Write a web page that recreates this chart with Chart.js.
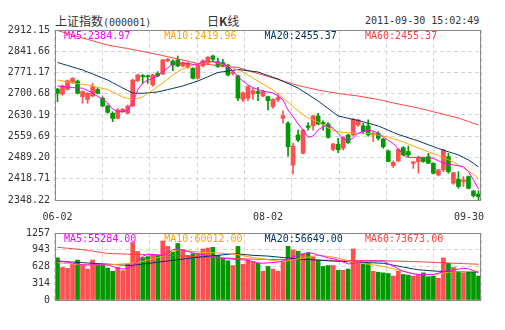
<!DOCTYPE html>
<html>
<head>
<meta charset="utf-8">
<script src="https://cdn.jsdelivr.net/npm/chart.js@4.4.0/dist/chart.umd.min.js"></script>
<style>
  body { margin: 0; background: #fff; width: 505px; height: 330px; position: relative; overflow: hidden; }
  .t { position: absolute; color: #333; white-space: nowrap; line-height: 12px; }
  .m { font-family: "DejaVu Sans Mono", monospace; font-size: 10px; }
  .c { font-family: "Noto Sans CJK SC", sans-serif; font-size: 12px; }
  #main { position: absolute; left: 0; top: 0; }
  #vol { position: absolute; left: 0; top: 222px; }
</style>
</head>
<body>
<div class="t c" style="left:55px;top:15px">上证指数<span class="m">(000001)</span></div>
<div class="t c" style="left:207px;top:15px">日<b>K</b>线</div>
<div class="t m" style="left:365px;top:15px">2011-09-30 15:02:49</div>
<canvas id="main" width="505" height="222"></canvas>
<canvas id="vol" width="505" height="108"></canvas>
<script>
// trading days 2011-06-02 .. 2011-09-30
const dates = [
  '06-02','06-03','06-07','06-08','06-09','06-10','06-13','06-14','06-15','06-16','06-17','06-20','06-21','06-22','06-23','06-24','06-27','06-28','06-29','06-30',
  '07-01','07-04','07-05','07-06','07-07','07-08','07-11','07-12','07-13','07-14','07-15','07-18','07-19','07-20','07-21','07-22','07-25','07-26','07-27','07-28','07-29',
  '08-01','08-02','08-03','08-04','08-05','08-08','08-09','08-10','08-11','08-12','08-15','08-16','08-17','08-18','08-19','08-22','08-23','08-24','08-25','08-26','08-29','08-30','08-31',
  '09-01','09-02','09-05','09-06','09-07','09-08','09-09','09-13','09-14','09-15','09-16','09-19','09-20','09-21','09-22','09-23','09-26','09-27','09-28','09-29','09-30'
];
const xTickLabels = ['06-02', '08-02', '09-30'];

const opens = [2716,2699,2715,2738,2743,2691,2682,2693,2715,2686,2660,2636,2619,2641,2636,2660,2744,2761,2760,2730,2768,2766,2810,2809,2813,2793,2788,2785,2752,2793,2802,2826,2807,2804,2796,2768,2760,2682,2686,2700,2708,2693,2691,2658,2680,2619,2603,2464,2564,2503,2594,2594,2627,2605,2600,2516,2533,2520,2564,2564,2597,2594,2594,2564,2569,2550,2511,2462,2478,2522,2509,2470,2475,2487,2492,2470,2431,2448,2492,2404,2417,2409,2426,2378,2368];
const highs = [2719,2730,2746,2754,2746,2710,2704,2735,2719,2691,2663,2641,2652,2652,2663,2749,2766,2765,2763,2766,2774,2815,2818,2813,2826,2807,2804,2787,2799,2813,2824,2829,2818,2815,2798,2777,2763,2707,2727,2719,2722,2713,2693,2685,2702,2644,2608,2536,2580,2583,2605,2630,2636,2611,2605,2536,2553,2558,2567,2619,2616,2603,2614,2575,2575,2553,2514,2478,2519,2525,2527,2476,2494,2489,2503,2472,2450,2516,2503,2440,2442,2426,2428,2380,2379];
const lows = [2674,2696,2713,2735,2700,2669,2669,2691,2700,2658,2636,2608,2617,2638,2634,2658,2741,2735,2735,2726,2757,2764,2807,2777,2790,2790,2785,2750,2750,2790,2800,2807,2788,2790,2760,2762,2678,2674,2678,2682,2678,2691,2647,2652,2674,2603,2494,2435,2542,2501,2580,2580,2597,2580,2553,2512,2505,2514,2536,2560,2592,2569,2560,2542,2547,2520,2475,2456,2475,2494,2492,2453,2437,2473,2469,2434,2428,2442,2437,2400,2387,2393,2385,2358,2346];
const closes = [2702,2726,2744,2752,2702,2708,2702,2724,2702,2660,2639,2619,2647,2649,2660,2746,2763,2757,2757,2763,2760,2813,2815,2796,2793,2804,2802,2752,2796,2810,2822,2815,2791,2793,2763,2773,2686,2704,2724,2711,2702,2708,2678,2682,2688,2628,2525,2527,2547,2580,2589,2627,2600,2600,2556,2534,2515,2556,2538,2616,2614,2575,2564,2569,2553,2525,2476,2473,2516,2498,2498,2475,2487,2476,2470,2437,2448,2514,2442,2439,2393,2415,2387,2362,2359];

const ma5 = [2726.4,2724.7,2723.1,2721.4,2719.8,2719.1,2711.5,2703.2,2691.6,2683.3,2670.1,2650.2,2641.2,2641.2,2645.2,2670.1,2713.1,2736.4,2746.3,2751.3,2759.6,2776.2,2786.1,2799.4,2801.7,2801.7,2801.7,2797.7,2799.4,2806,2807,2807,2804.4,2799.4,2792.7,2776.2,2757.3,2743,2729.7,2721.4,2714.8,2709.2,2706.5,2703.2,2693.2,2680,2646.8,2625.2,2600.4,2580.5,2556.3,2560.6,2580.5,2591.4,2597,2586.1,2569.5,2550.6,2547.3,2552.9,2569.5,2575.5,2580.5,2577.2,2568.9,2557.2,2545.6,2536.3,2517.4,2497.5,2489.9,2489.3,2489.9,2489.9,2488.2,2486.6,2478.3,2470,2467,2464.4,2461.7,2458.8,2442.2,2414.6,2385];
const ma10 = [2746.3,2743,2739.7,2736.4,2734,2732,2729.7,2726,2722.1,2718.4,2714.8,2706.5,2698.2,2689.9,2685.6,2681.6,2685.6,2689.9,2701.5,2713.1,2724.7,2736.4,2749.6,2762.9,2772.8,2782.8,2788.8,2795.1,2801.1,2803,2805,2807,2802.4,2797.4,2792.7,2786.1,2779.5,2772.8,2762.9,2752.9,2743,2733,2723.1,2713.1,2699.9,2686.6,2673.3,2658.4,2643.5,2631.9,2620.3,2613.6,2607,2597,2587.1,2580.5,2573.8,2572.8,2571.5,2570.5,2569.5,2569.5,2569.5,2566.5,2563.2,2560.2,2557.2,2551.6,2546.3,2540.7,2534,2527.4,2520.8,2514.1,2508.2,2501.9,2495.9,2488.6,2481.6,2474.4,2464.4,2454.4,2444.5,2432.8,2420];
const ma20 = [2804.4,2799.4,2794.4,2789.4,2784.4,2779.5,2772.8,2766.2,2759.6,2752.9,2746.3,2737.4,2728.7,2719.8,2711.5,2703.2,2702.5,2702.2,2703.5,2705.2,2706.5,2710.5,2714.5,2718.4,2722.4,2726.4,2732,2737.4,2743,2749.9,2756.9,2764.2,2771.2,2773.5,2776.2,2778.5,2781.2,2779.2,2776.8,2774.8,2772.8,2766.9,2761.2,2755.3,2749.6,2742,2734.7,2727.1,2719.8,2708.8,2698.2,2687.3,2676.6,2664,2651.8,2639.1,2626.9,2623.2,2619.3,2615.6,2612,2607.3,2602.6,2598.3,2593.7,2586.7,2579.4,2572.5,2565.5,2560.2,2554.6,2549.3,2544,2537.7,2531.4,2525.4,2519.1,2513.8,2508.2,2502.9,2497.5,2489.3,2481,2470,2458];
const ma60 = [2910.5,2905.5,2900.5,2895.6,2890.6,2885.6,2881,2876.3,2871.7,2867,2862.4,2859.4,2856.4,2853.5,2850.5,2847.5,2844.2,2840.9,2837.5,2834.2,2830.9,2827.2,2823.6,2820,2816.3,2812.6,2808.7,2805,2801.1,2799.4,2797.7,2796.1,2794.4,2792.7,2791.1,2789.4,2787.8,2782.8,2777.8,2772.8,2767.9,2762.9,2757.9,2752.9,2747.9,2743,2738,2733,2728.1,2724.4,2720.4,2716.8,2713.1,2710.1,2707.2,2704.5,2701.5,2699.5,2697.2,2695.2,2693.2,2690.2,2687.2,2684.6,2681.6,2678,2674,2670.4,2666.7,2663.4,2660.1,2656.8,2653.4,2649.1,2645.2,2640.8,2636.8,2632.5,2628.6,2624.2,2620.3,2614.3,2608.8,2602.6,2597];

const volumes = [790,611,593,677,749,659,581,749,670,659,598,539,611,551,670,1078,910,796,814,850,838,1108,1006,898,1060,946,838,868,868,958,976,988,838,778,736,647,1006,670,749,718,688,539,629,581,539,718,1006,940,916,868,880,808,748,629,647,647,557,557,581,958,718,670,683,539,521,509,497,449,539,479,467,449,479,509,437,449,407,790,688,611,539,509,527,527,449];
const vma5 = [739,724,709,694,677,659,659,659,659,659,659,629,599,581,593,641,730,820,862,856,844,832,868,946,958,934,910,886,868,850,832,814,796,784,772,766,760,754,748,718,694,691,697,703,712,736,772,808,832,862,892,874,844,820,790,778,748,712,677,682,706,730,730,730,730,730,682,635,587,539,515,491,479,479,479,479,503,533,545,563,581,593,587,551,509];
const vma10 = [700,691,682,674,665,659,659,659,659,659,659,663,671,678,685,697,712,724,748,772,796,820,862,916,943,934,924,914,904,893,889,884,880,875,871,865,850,832,814,796,784,769,754,742,727,718,736,754,772,787,805,823,838,829,817,805,784,760,730,712,697,685,671,659,644,629,605,584,563,539,518,494,479,479,479,479,485,503,521,529,531,533,535,537,539];
const vma20 = [727,722,717,711,706,700,694,689,684,678,673,668,662,656,650,651,663,674,686,697,709,721,733,744,756,768,779,791,803,812,821,830,839,848,857,866,862,856,847,838,833,829,824,815,806,797,788,779,770,765,759,754,748,742,736,730,726,722,718,714,709,705,701,697,693,688,671,653,636,618,600,583,567,560,552,545,539,537,536,534,533,531,530,528,527];
const vma60 = [988,979,971,963,954,946,932,917,903,888,874,870,867,863,860,856,854,851,848,846,844,841,838,833,828,823,818,813,808,805,800,797,793,789,785,782,778,774,770,766,765,763,762,761,759,758,757,756,754,753,751,750,748,747,747,745,745,744,742,742,741,740,739,738,738,736,734,731,729,726,724,721,718,714,711,706,702,699,694,690,687,682,678,675,671];

const yTickLabels = ['2348.22','2418.71','2489.20','2559.69','2630.19','2700.68','2771.17','2841.66','2912.15'];
const volTickLabels = ['0','314','628','943','1257'];
const maNames = ['MA5', 'MA10', 'MA20', 'MA60'];
const maLast = [2384.97, 2419.96, 2455.37, 2455.37];
const volMaLast = [55284.00, 60012.00, 56649.00, 73673.00];

const red = '#ff5050', green = '#009900';
const maColors = ['#ff00ff', '#ffa500', '#003366', '#ff4040'];
const candleColors = closes.map((c, i) => (c >= opens[i] ? red : green));
const monoFont = { family: '"DejaVu Sans Mono", monospace', size: 10 };

// labels inside the plot, frame and date labels
const boxPlugin = {
  id: 'box',
  beforeDatasetsDraw(chart, args, opts) {
    const { ctx, chartArea: a } = chart;
    ctx.save();
    ctx.font = '10px "DejaVu Sans Mono"';
    ctx.textBaseline = 'middle';
    opts.labels.forEach((t, k) => {
      ctx.fillStyle = maColors[k];
      ctx.fillText(t, a.left + 9 + k * 100.3, a.top + 6.5);
    });
    ctx.restore();
  },
  afterDraw(chart, args, opts) {
    const { ctx, chartArea: a } = chart;
    ctx.save();
    ctx.strokeStyle = '#8a8a8a';
    ctx.lineWidth = 1;
    ctx.strokeRect(a.left + 0.5, a.top + 0.5, a.right - a.left - 1, a.bottom - a.top);
    if (opts.dateLabels) {
      ctx.font = '10px "DejaVu Sans Mono"';
      ctx.fillStyle = '#333';
      ctx.textBaseline = 'middle';
      xTickLabels.forEach(t => {
        const x = chart.scales.x.getPixelForValue(dates.indexOf(t));
        const w = ctx.measureText(t).width;
        let left = Math.min(x - w / 2, a.right + 3 - w);
        ctx.fillText(t, left, a.bottom + 17.5);
      });
    }
    ctx.restore();
  }
};

function lineSet(label, data, color) {
  return { type: 'line', label, data, borderColor: color, borderWidth: 1, pointRadius: 0, tension: 0, order: 1 };
}

function gridAxis() {
  return {
    type: 'linear', axis: 'x', position: 'bottom', min: 0, max: 8,
    ticks: { display: false, stepSize: 1 },
    grid: { color: '#d6d6d6', drawTicks: false },
    border: { display: false, dash: [4, 3] },
    afterFit(s) { s.height = 0; }
  };
}

function valueAxis(min, max, labels) {
  return {
    min, max,
    afterBuildTicks(s) { s.ticks = labels.map(v => ({ value: Number(v) })); },
    afterFit(s) { s.width = 55; },
    ticks: { autoSkip: false, padding: 5, color: '#333', font: monoFont, callback: (v, i) => labels[i] },
    grid: { color: '#d6d6d6', drawTicks: false },
    border: { display: false, dash: [4, 3] }
  };
}

new Chart(document.getElementById('main'), {
  type: 'bar',
  data: {
    labels: dates,
    datasets: [
      lineSet('MA5', ma5, maColors[0]),
      lineSet('MA10', ma10, maColors[1]),
      lineSet('MA20', ma20, maColors[2]),
      lineSet('MA60', ma60, maColors[3]),
      { label: 'body', data: opens.map((o, i) => [o, closes[i]]), backgroundColor: candleColors,
        barThickness: 4, grouped: false, minBarLength: 1, borderWidth: 0, order: 2 },
      { label: 'wick', data: lows.map((l, i) => [l, highs[i]]), backgroundColor: candleColors,
        barThickness: 1, grouped: false, borderWidth: 0, order: 3 }
    ]
  },
  options: {
    responsive: false,
    animation: false,
    layout: { padding: { left: 0, right: 24, top: 30, bottom: 22 } },
    plugins: {
      legend: { display: false },
      tooltip: { enabled: false },
      box: { labels: maNames.map((n, k) => n + ':' + maLast[k].toFixed(2)), dateLabels: true }
    },
    scales: {
      x: { display: false, offset: true },
      grid8: gridAxis(),
      y: valueAxis(Number(yTickLabels[0]), Number(yTickLabels[yTickLabels.length - 1]), yTickLabels)
    }
  },
  plugins: [boxPlugin]
});

new Chart(document.getElementById('vol'), {
  type: 'bar',
  data: {
    labels: dates,
    datasets: [
      lineSet('MA5', vma5, maColors[0]),
      lineSet('MA10', vma10, maColors[1]),
      lineSet('MA20', vma20, maColors[2]),
      lineSet('MA60', vma60, maColors[3]),
      { label: 'vol', data: volumes, backgroundColor: candleColors, barThickness: 4, borderWidth: 0, order: 2 }
    ]
  },
  options: {
    responsive: false,
    animation: false,
    layout: { padding: { left: 0, right: 24, top: 8, bottom: 30 } },
    plugins: {
      legend: { display: false },
      tooltip: { enabled: false },
      box: { labels: maNames.map((n, k) => n + ':' + volMaLast[k].toFixed(2)), dateLabels: false }
    },
    scales: {
      x: { display: false, offset: true },
      grid8: gridAxis(),
      y: valueAxis(0, 1257, volTickLabels)
    }
  },
  plugins: [boxPlugin]
});
</script>
</body>
</html>
